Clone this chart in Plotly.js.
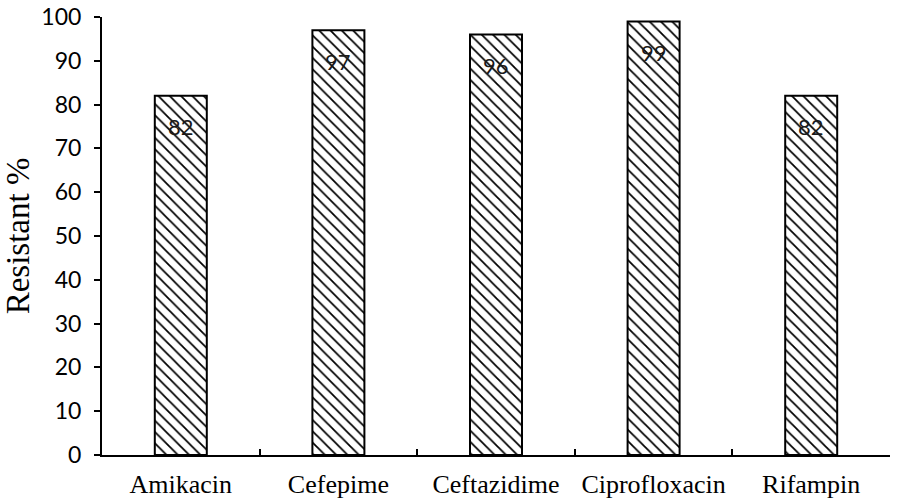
<!DOCTYPE html>
<html>
<head>
<meta charset="utf-8">
<script src="https://cdn.plot.ly/plotly-3.0.1.min.js"></script>
<style>
  html, body { margin: 0; padding: 0; background: #ffffff; }
  #chart { width: 898px; height: 503px; }
</style>
</head>
<body>
<div id="chart"></div>
<script>
const drugs = ["Amikacin", "Cefepime", "Ceftazidime", "Ciprofloxacin", "Rifampin"];
const resistantPct = [82, 97, 96, 99, 82];
const yTicks = [0, 10, 20, 30, 40, 50, 60, 70, 80, 90, 100];

const trace = {
  type: "bar",
  x: drugs,
  y: resistantPct,
  width: 0.33,
  marker: {
    color: "#ffffff",
    line: { color: "#000000", width: 2 },
    pattern: { shape: "\\", fgcolor: "#000000", bgcolor: "#ffffff", size: 8, solidity: 0.22 }
  },
  hoverinfo: "x+y"
};

// value labels sit a little below the top of each bar
const valueLabels = drugs.map((d, i) => ({
  x: d,
  y: resistantPct[i],
  yshift: -31,
  text: String(resistantPct[i]),
  showarrow: false,
  font: { family: "Lato, 'Open Sans', sans-serif", size: 22, color: "#1a1a1a" }
}));

const layout = {
  width: 898,
  height: 503,
  margin: { l: 102, r: 8, t: 17, b: 48 },
  paper_bgcolor: "#ffffff",
  plot_bgcolor: "#ffffff",
  showlegend: false,
  annotations: valueLabels,
  xaxis: {
    type: "category",
    showline: true,
    linecolor: "#000000",
    linewidth: 2,
    showgrid: false,
    zeroline: false,
    ticks: "inside",
    tickson: "boundaries",
    ticklen: 6,
    tickwidth: 2,
    tickcolor: "#000000",
    tickangle: 0,
    ticklabelstandoff: 5,
    tickfont: { family: "'Liberation Serif', 'Times New Roman', serif", size: 26, color: "#000000" },
    fixedrange: true
  },
  yaxis: {
    range: [0, 100],
    tickvals: yTicks,
    showline: true,
    linecolor: "#000000",
    linewidth: 2,
    showgrid: false,
    zeroline: false,
    ticks: "outside",
    ticklen: 6,
    tickwidth: 2,
    tickcolor: "#000000",
    ticklabelstandoff: 8,
    tickfont: { family: "Lato, 'Open Sans', sans-serif", size: 23, color: "#000000" },
    title: {
      text: "Resistant %",
      font: { family: "'Liberation Serif', 'Times New Roman', serif", size: 33, color: "#000000" },
      standoff: 2
    },
    fixedrange: true
  }
};

Plotly.newPlot("chart", [trace], layout, { displayModeBar: false, staticPlot: true });
</script>
</body>
</html>
